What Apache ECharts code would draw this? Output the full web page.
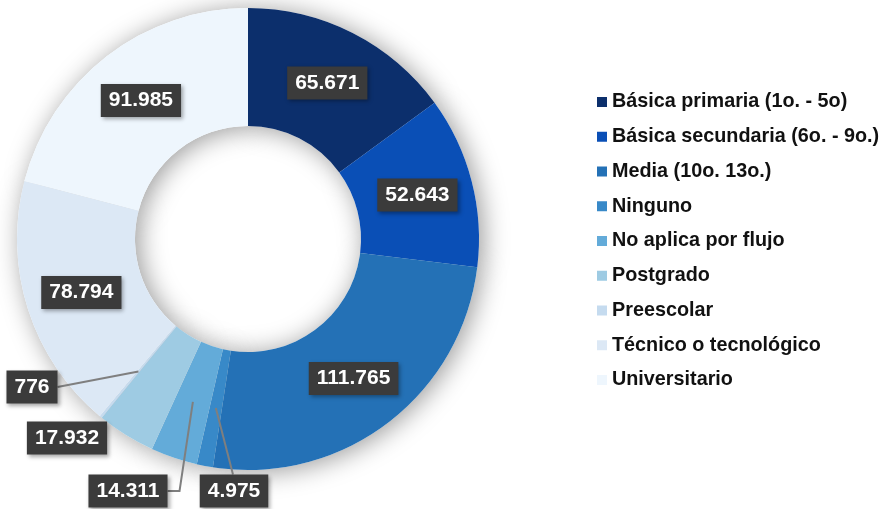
<!DOCTYPE html>
<html>
<head>
<meta charset="utf-8">
<script src="https://cdn.jsdelivr.net/npm/echarts@6/dist/echarts.min.js"></script>
<style>
  html, body { margin: 0; padding: 0; background: #ffffff; }
  #chart { width: 884px; height: 509px; }
</style>
</head>
<body>
<div id="chart"></div>
<script>
// Nivel educativo: categorías y totales de personas
const categorias = [
  'Básica primaria (1o. - 5o)',
  'Básica secundaria (6o. - 9o.)',
  'Media (10o. 13o.)',
  'Ninguno',
  'No aplica por flujo',
  'Postgrado',
  'Preescolar',
  'Técnico o tecnológico',
  'Universitario'
];
const valores = [65671, 52643, 111765, 4975, 14311, 17932, 776, 78794, 91985];

const colores = [
  '#0c2f6c', '#0a4fb6', '#2471b6', '#3889c8', '#63abd9',
  '#9ecbe3', '#c5dbef', '#dce8f5', '#eef6fd'
];

// Geometría del anillo
const CX = 248, CY = 239, R_IN = 113, R_OUT = 231;
const R_MID = (R_IN + R_OUT) / 2;

// Etiquetas exteriores: centro de la caja y forma de la guía
const etiquetasFuera = {
  3: { x: 234, y: 491, guia: 'arriba' },
  4: { x: 128, y: 491, guia: 'codo' },
  5: { x: 67, y: 438, guia: 'ninguna' },
  6: { x: 32, y: 387, guia: 'derecha' }
};

function formatoMiles(v) {
  return String(v).replace(/\B(?=(\d{3})+(?!\d))/g, '.');
}

const total = valores.reduce((a, b) => a + b, 0);
function anclaMedia(i) {
  let acum = 0;
  for (let k = 0; k < i; k++) acum += valores[k];
  const ang = (acum + valores[i] / 2) / total * 2 * Math.PI;
  return [CX + R_MID * Math.sin(ang), CY - R_MID * Math.cos(ang)];
}

const estiloCaja = {
  show: true,
  color: '#ffffff',
  fontFamily: 'Liberation Sans, Arial, sans-serif',
  fontWeight: 'bold',
  fontSize: 21,
  lineHeight: 22,
  backgroundColor: '#3b3b3b',
  padding: [6, 8, 5, 8],
  shadowColor: 'rgba(0,0,0,0.35)',
  shadowBlur: 4,
  shadowOffsetX: 2,
  shadowOffsetY: 2,
  formatter: p => formatoMiles(p.value)
};

const datos = categorias.map((nombre, i) => ({
  name: nombre,
  value: valores[i],
  itemStyle: { color: colores[i] }
}));

// Capa superior transparente que sólo dibuja cajas y guías
const datosEtiquetas = categorias.map((nombre, i) => {
  const fuera = etiquetasFuera[i];
  return {
    name: nombre,
    value: valores[i],
    label: { position: fuera ? 'outside' : 'inside' },
    labelLine: { show: !!fuera && fuera.guia !== 'ninguna' }
  };
});

const datosSombra = categorias.map((nombre, i) => ({ name: nombre, value: valores[i] }));

const chart = echarts.init(document.getElementById('chart'), null, { renderer: 'canvas' });

const anilloBase = {
  type: 'pie',
  center: [CX, CY],
  radius: [R_IN, R_OUT],
  startAngle: 90,
  clockwise: true
};

chart.setOption({
  backgroundColor: '#ffffff',
  animation: false,
  legend: {
    orient: 'vertical',
    left: 597,
    top: 92,
    padding: 0,
    itemWidth: 10,
    itemHeight: 10,
    itemGap: 14.75,
    icon: 'rect',
    selectedMode: false,
    data: categorias,
    textStyle: {
      color: '#111111',
      fontFamily: 'Liberation Sans, Arial, sans-serif',
      fontWeight: 'bold',
      fontSize: 19.8,
      lineHeight: 20
    }
  },
  series: [
    Object.assign({}, anilloBase, {
      name: 'Nivel educativo',
      z: 3,
      emphasis: { scale: false },
      itemStyle: { borderWidth: 0 },
      label: { show: false },
      labelLine: { show: false },
      data: datos
    }),
    Object.assign({}, anilloBase, {
      name: 'etiquetas',
      z: 5,
      silent: true,
      legendHoverLink: false,
      avoidLabelOverlap: false,
      minShowLabelAngle: 0,
      emphasis: { disabled: true },
      itemStyle: { color: 'rgba(0,0,0,0)', borderWidth: 0 },
      label: estiloCaja,
      labelLine: {
        show: true,
        lineStyle: { color: '#7f7f7f', width: 2 }
      },
      labelLayout: function (params) {
        const cfg = etiquetasFuera[params.dataIndex];
        if (!cfg) return {};
        const a = anclaMedia(params.dataIndex);
        const r = params.labelRect;
        const der = cfg.x + r.width / 2;
        const sup = cfg.y - r.height / 2;
        let puntos;
        if (cfg.guia === 'arriba') {
          puntos = [a, [cfg.x - 1, sup], [cfg.x - 1, sup]];
        } else if (cfg.guia === 'codo') {
          puntos = [a, [der + 12, cfg.y], [der, cfg.y]];
        } else if (cfg.guia === 'derecha') {
          puntos = [a, [der, cfg.y], [der, cfg.y]];
        }
        const out = { x: cfg.x, y: cfg.y, align: 'center', verticalAlign: 'middle' };
        if (puntos) out.labelLinePoints = puntos;
        return out;
      },
      data: datosEtiquetas
    }),
    Object.assign({}, anilloBase, {
      // anillo de sombra bajo las porciones
      name: 'sombra',
      z: 1,
      silent: true,
      legendHoverLink: false,
      itemStyle: {
        color: '#ffffff',
        shadowBlur: 26,
        shadowColor: 'rgba(0,0,0,0.4)',
        shadowOffsetX: 4,
        shadowOffsetY: 2
      },
      label: { show: false },
      labelLine: { show: false },
      emphasis: { disabled: true },
      data: datosSombra
    })
  ]
});
</script>
</body>
</html>
